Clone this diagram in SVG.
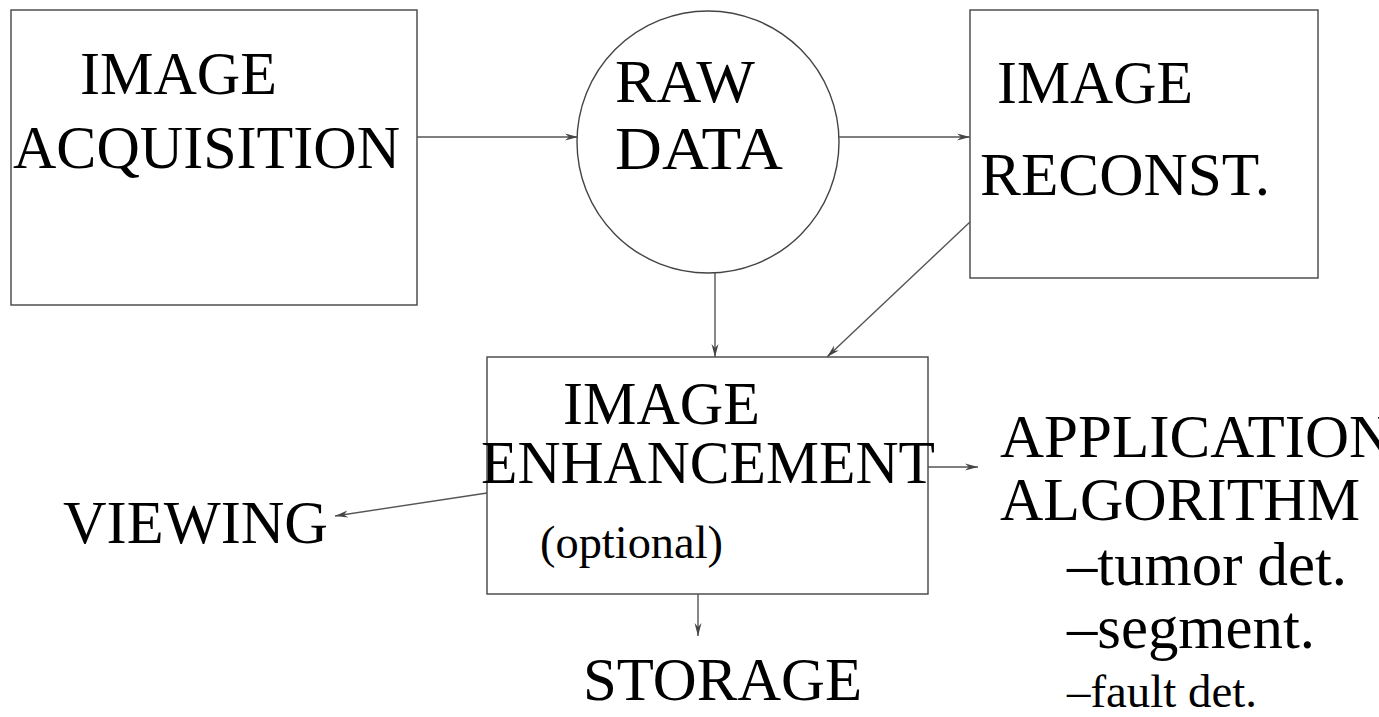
<svg xmlns="http://www.w3.org/2000/svg" width="1379" height="717" viewBox="0 0 1379 717">
<style>
.box{fill:#fff;stroke:#444;stroke-width:1.4}
.t{font-family:"Liberation Serif","Times New Roman",serif;font-size:61px;fill:#000}
.s{font-family:"Liberation Serif","Times New Roman",serif;font-size:47px;fill:#000}
.c{fill:none;stroke:#555;stroke-width:1.4}
</style>
<defs>
<marker id="ah" markerUnits="userSpaceOnUse" markerWidth="16" markerHeight="10" refX="13" refY="5" orient="auto">
<path d="M0,1.5 L13,5 L0,8.5 L4,5 Z" fill="#444"/>
</marker>
</defs>
<g id="acq">
<rect class="box" x="11" y="10" width="406" height="295"/>
<text class="t" x="80" y="94" textLength="197" lengthAdjust="spacingAndGlyphs">IMAGE</text>
<text class="t" x="13" y="168" textLength="387" lengthAdjust="spacingAndGlyphs">ACQUISITION</text>
</g>
<g id="raw">
<circle class="box" cx="708" cy="142" r="131"/>
<text class="t" x="615" y="102" textLength="140" lengthAdjust="spacingAndGlyphs">RAW</text>
<text class="t" x="615" y="169" textLength="168" lengthAdjust="spacingAndGlyphs">DATA</text>
</g>
<g id="recon">
<rect class="box" x="970" y="10" width="348" height="268"/>
<text class="t" x="997" y="103" textLength="196" lengthAdjust="spacingAndGlyphs">IMAGE</text>
<text class="t" x="980" y="195" textLength="290" lengthAdjust="spacingAndGlyphs">RECONST.</text>
</g>
<g id="enh">
<rect class="box" x="487" y="357" width="441" height="237"/>
<text class="t" x="563" y="424" textLength="197" lengthAdjust="spacingAndGlyphs">IMAGE</text>
<text class="t" x="481" y="483" textLength="454" lengthAdjust="spacingAndGlyphs">ENHANCEMENT</text>
<text class="s" x="540" y="558" textLength="183" lengthAdjust="spacingAndGlyphs">(optional)</text>
</g>
<g id="viewing">
<text class="t" x="63" y="543" textLength="265" lengthAdjust="spacingAndGlyphs">VIEWING</text>
</g>
<g id="storage">
<text class="t" x="583" y="700" textLength="279" lengthAdjust="spacingAndGlyphs">STORAGE</text>
</g>
<g id="app">
<text class="t" x="1000" y="457">APPLICATION</text>
<text class="t" x="1000" y="520" textLength="360" lengthAdjust="spacingAndGlyphs">ALGORITHM</text>
<text class="t" x="1067" y="585" textLength="280" lengthAdjust="spacingAndGlyphs">–tumor det.</text>
<text class="t" x="1067" y="648" textLength="248" lengthAdjust="spacingAndGlyphs">–segment.</text>
<text class="s" x="1067" y="707" textLength="190" lengthAdjust="spacingAndGlyphs">–fault det.</text>
</g>
<g id="connectors">
<line class="c" x1="417" y1="137" x2="578" y2="137" marker-end="url(#ah)"/>
<line class="c" x1="839" y1="137" x2="970" y2="137" marker-end="url(#ah)"/>
<line class="c" x1="715" y1="273" x2="715" y2="357" marker-end="url(#ah)"/>
<line class="c" x1="970" y1="222" x2="827" y2="357" marker-end="url(#ah)"/>
<line class="c" x1="487" y1="493" x2="335" y2="516" marker-end="url(#ah)"/>
<line class="c" x1="928" y1="467" x2="978" y2="467" marker-end="url(#ah)"/>
<line class="c" x1="698" y1="594" x2="698" y2="636" marker-end="url(#ah)"/>
</g>
</svg>
